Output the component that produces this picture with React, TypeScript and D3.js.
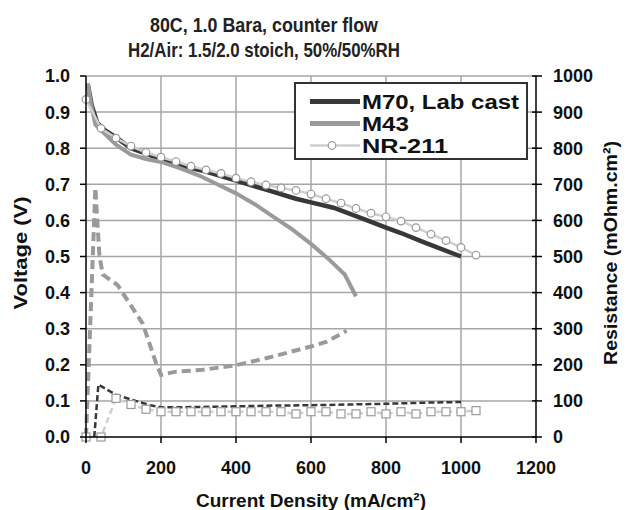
import React from "react";
import * as d3 from "d3";

// ---- data ----
const titleLines = ["80C, 1.0 Bara, counter flow", "H2/Air: 1.5/2.0 stoich, 50%/50%RH"];
const xTicks = [0, 200, 400, 600, 800, 1000, 1200];
const yLeftTicks = [0, 0.1, 0.2, 0.3, 0.4, 0.5, 0.6, 0.7, 0.8, 0.9, 1.0];
const yRightTicks = [0, 100, 200, 300, 400, 500, 600, 700, 800, 900, 1000];
const legendNames = ["M70, Lab cast", "M43", "NR-211"];

// Voltage curves (left axis)
const m70X = [5, 15, 30, 50, 80, 120, 160, 200, 260, 320, 400, 480, 560, 600, 660, 750, 800, 840, 900, 1000];
const m70V = [0.975, 0.92, 0.87, 0.85, 0.83, 0.80, 0.785, 0.77, 0.75, 0.735, 0.71, 0.685, 0.66, 0.65, 0.635, 0.60, 0.58, 0.565, 0.54, 0.50];

const m43X = [5, 12, 25, 50, 80, 120, 160, 200, 250, 300, 350, 400, 450, 500, 550, 600, 650, 690, 720];
const m43V = [0.98, 0.93, 0.865, 0.84, 0.81, 0.782, 0.77, 0.762, 0.745, 0.725, 0.70, 0.675, 0.645, 0.61, 0.575, 0.535, 0.49, 0.45, 0.39];

const nrX = [0, 40, 80, 120, 160, 200, 240, 280, 320, 360, 400, 440, 480, 520, 560, 600, 640, 680, 720, 760, 800, 840, 880, 920, 960, 1000, 1040];
const nrV = [0.935, 0.855, 0.828, 0.806, 0.788, 0.775, 0.763, 0.75, 0.74, 0.73, 0.717, 0.707, 0.698, 0.69, 0.683, 0.673, 0.66, 0.648, 0.633, 0.62, 0.61, 0.598, 0.58, 0.562, 0.544, 0.525, 0.504];

// Resistance curves (right axis)
const m43RX = [0, 25, 30, 36, 45, 84, 116, 151, 187, 200, 240, 311, 400, 480, 597, 642, 695];
const m43R = [0, 690, 600, 500, 450, 421, 370, 315, 204, 172, 181, 186, 199, 218, 250, 264, 294];

const m70RX = [22, 33, 82, 126, 171, 202, 300, 400, 500, 600, 700, 800, 900, 1000];
const m70R = [0, 145, 116, 102, 88, 82, 83, 85, 87, 88, 90, 92, 95, 97];

const nrRX = [0, 40, 80, 120, 160, 200, 240, 280, 320, 360, 400, 440, 480, 520, 560, 600, 640, 680, 720, 760, 800, 840, 880, 920, 960, 1000, 1040];
const nrR = [0, 0, 107, 90, 77, 70, 70, 70, 70, 70, 70, 70, 70, 70, 64, 70, 70, 64, 64, 70, 64, 70, 64, 70, 70, 70, 73];

// ---- layout ----
const W = 626;
const H = 510;
const PL = 86, PR = 536, PT = 76, PB = 437;
const FONT = "'Liberation Sans', Arial, sans-serif";

export default function App() {
  const x = d3.scaleLinear().domain([0, 1200]).range([PL, PR]);
  const yL = d3.scaleLinear().domain([0, 1]).range([PB, PT]);
  const yR = d3.scaleLinear().domain([0, 1000]).range([PB, PT]);

  const lineL = (xs: number[], ys: number[]) =>
    d3.line<number>().x((_, i) => x(xs[i])).y((d) => yL(d))(ys) || "";
  const lineR = (xs: number[], ys: number[]) =>
    d3.line<number>().x((_, i) => x(xs[i])).y((d) => yR(d))(ys) || "";

  const grid = "#a6a6a6";
  const c70 = "#383838";
  const c43 = "#9a9a9a";
  const cNR = "#cfcfcf";
  const cMark = "#9a9a9a";

  const lx = 295, ly = 83, lw = 232, lh = 76;
  const titleLens = [228, 272];
  const legendLens = [157, 47, 86];

  return (
    <svg width={W} height={H} style={{ position: "absolute", left: 0, top: 0, background: "#fff" }} fontFamily={FONT}>
      <rect x={0} y={0} width={W} height={H} fill="#fff" />
      {/* title */}
      {titleLines.map((t, i) => (
        <text key={i} x={264} y={32 + i * 25} textAnchor="middle" fontWeight="bold" fontSize={21} fill="#222"
          textLength={titleLens[i]} lengthAdjust="spacingAndGlyphs">
          {t}
        </text>
      ))}
      {/* gridlines */}
      {yLeftTicks.filter((v) => v > 0).map((v) => (
        <line key={"gy" + v} x1={PL} x2={PR} y1={yL(v)} y2={yL(v)} stroke={grid} strokeWidth={1.5} />
      ))}
      {xTicks.filter((v) => v > 0 && v < 1200).map((v) => (
        <line key={"gx" + v} x1={x(v)} x2={x(v)} y1={PT} y2={PB} stroke={grid} strokeWidth={1.5} />
      ))}

      {/* resistance series */}
      <path d={lineR(nrRX, nrR)} fill="none" stroke={cNR} strokeWidth={2.5} strokeDasharray="6,4" />
      <path d={lineR(m43RX, m43R)} fill="none" stroke={c43} strokeWidth={4} strokeDasharray="9,5" />
      <path d={lineR(m70RX, m70R)} fill="none" stroke={c70} strokeWidth={2.5} strokeDasharray="6,3" />
      {nrRX.map((xv, i) => (
        <rect key={"sq" + i} x={x(xv) - 4} y={yR(nrR[i]) - 4} width={8} height={8} fill="#fff" stroke={cMark} strokeWidth={1.2} />
      ))}

      {/* voltage series */}
      <path d={lineL(m70X, m70V)} fill="none" stroke={c70} strokeWidth={4.5} />
      <path d={lineL(m43X, m43V)} fill="none" stroke={c43} strokeWidth={4} />
      <path d={lineL(nrX, nrV)} fill="none" stroke={cNR} strokeWidth={2.5} />
      {nrX.map((xv, i) => (
        <circle key={"c" + i} cx={x(xv)} cy={yL(nrV[i])} r={3.8} fill="#fff" stroke={cMark} strokeWidth={1.2} />
      ))}

      {/* axes */}
      <line x1={PL} x2={PL} y1={PT} y2={PB} stroke="#000" strokeWidth={1.5} />
      <line x1={PR} x2={PR} y1={PT} y2={PB} stroke="#000" strokeWidth={1.5} />
      <line x1={PL} x2={PR} y1={PB} y2={PB} stroke="#000" strokeWidth={1.5} />
      {yLeftTicks.map((v) => (
        <g key={"yl" + v}>
          <line x1={PL - 6} x2={PL} y1={yL(v)} y2={yL(v)} stroke="#000" strokeWidth={1.5} />
          <text x={70} y={yL(v)} dy="0.36em" textAnchor="end" fontWeight="bold" fontSize={18} fill="#111">
            {d3.format(".1f")(v)}
          </text>
        </g>
      ))}
      {yRightTicks.map((v) => (
        <g key={"yr" + v}>
          <line x1={PR - 4} x2={PR + 6} y1={yR(v)} y2={yR(v)} stroke="#000" strokeWidth={1.5} />
          <text x={553} y={yR(v)} dy="0.36em" textAnchor="start" fontWeight="bold" fontSize={18} fill="#111">
            {v}
          </text>
        </g>
      ))}
      {xTicks.map((v) => (
        <g key={"xt" + v}>
          <line x1={x(v)} x2={x(v)} y1={PB} y2={PB + 6} stroke="#000" strokeWidth={1.5} />
          <text x={x(v)} y={474} textAnchor="middle" fontWeight="bold" fontSize={18} fill="#111">
            {v}
          </text>
        </g>
      ))}

      {/* axis titles */}
      <text x={311} y={507} textAnchor="middle" fontWeight="bold" fontSize={19} fill="#111"
        textLength={230} lengthAdjust="spacingAndGlyphs">
        Current Density (mA/cm²)
      </text>
      <text transform={`translate(27,253) rotate(-90)`} textAnchor="middle" fontWeight="bold" fontSize={19} fill="#111"
        textLength={113} lengthAdjust="spacingAndGlyphs">
        Voltage (V)
      </text>
      <text transform={`translate(617,253) rotate(-90)`} textAnchor="middle" fontWeight="bold" fontSize={19} fill="#111"
        textLength={224} lengthAdjust="spacingAndGlyphs">
        Resistance (mOhm.cm²)
      </text>

      {/* legend */}
      <rect x={lx} y={ly} width={lw} height={lh} fill="#fff" stroke="#333" strokeWidth={2} />
      {legendNames.map((name, i) => {
        const cy = ly + 18.5 + i * 22;
        const stroke = i === 0 ? c70 : i === 1 ? c43 : cNR;
        const sw = i === 2 ? 2.5 : 5;
        return (
          <g key={name}>
            <line x1={lx + 15} x2={lx + 65} y1={cy} y2={cy} stroke={stroke} strokeWidth={sw} />
            {i === 2 && <circle cx={lx + 37} cy={cy} r={3.8} fill="#fff" stroke={cMark} strokeWidth={1.2} />}
            <text x={lx + 67} y={cy} dy="0.36em" fontWeight="bold" fontSize={19.5} fill="#111"
              textLength={legendLens[i]} lengthAdjust="spacingAndGlyphs">
              {name}
            </text>
          </g>
        );
      })}
    </svg>
  );
}
